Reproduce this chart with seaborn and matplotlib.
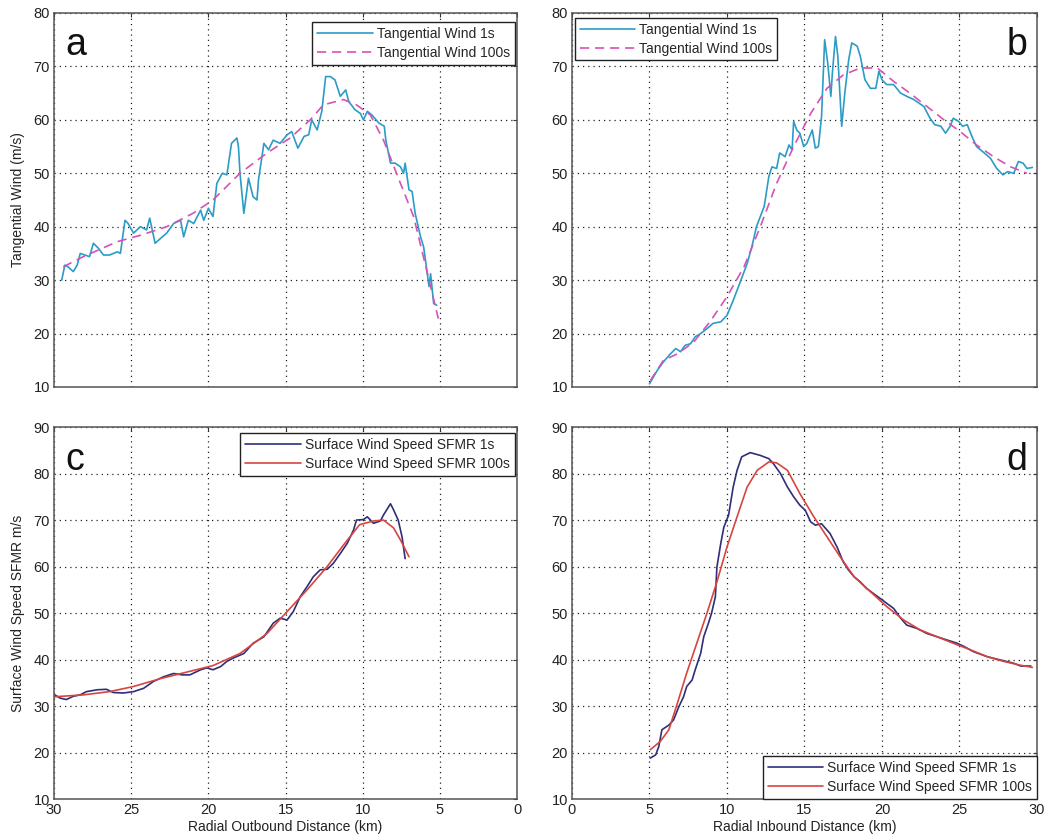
import matplotlib
matplotlib.use("Agg")
import matplotlib.pyplot as plt
import seaborn as sns

# ---- Panel a: tangential wind, outbound leg ----
a_dist_1s = [29.5, 29.3, 29.1, 28.75, 28.5, 28.3, 28.0, 27.7, 27.45, 27.1, 26.8, 26.4, 25.9, 25.7,
             25.4, 25.2, 24.85, 24.4, 24.0, 23.8, 23.45, 23.1, 22.7, 22.25, 21.8, 21.6, 21.3, 20.95,
             20.5, 20.3, 20.0, 19.7, 19.45, 19.1, 18.8, 18.5, 18.15, 18.05, 17.95, 17.7, 17.4, 17.1,
             16.85, 16.75, 16.4, 16.1, 15.8, 15.35, 14.9, 14.6, 14.2, 13.8, 13.5, 13.3, 12.95, 12.65,
             12.4, 12.1, 11.8, 11.45, 11.1, 10.9, 10.5, 10.15, 9.95, 9.7, 9.4, 8.95, 8.6, 8.5, 8.2,
             7.9, 7.55, 7.35, 7.25, 7.0, 6.8, 6.6, 6.25, 6.05, 5.7, 5.6, 5.4, 5.2]
a_wind_1s = [30.0, 32.8, 32.5, 31.6, 32.8, 35.0, 34.7, 34.4, 36.9, 35.9, 34.7, 34.7, 35.3, 35.0,
             41.2, 40.6, 38.8, 40.0, 39.4, 41.6, 36.9, 37.8, 38.8, 40.6, 41.2, 38.1, 41.2, 40.6,
             43.1, 41.2, 43.4, 41.9, 48.1, 50.0, 49.7, 55.6, 56.6, 55.0, 50.0, 42.5, 49.1, 45.6,
             45.0, 48.8, 55.6, 54.4, 56.2, 55.6, 57.2, 57.8, 54.7, 56.9, 57.2, 60.0, 58.1, 61.6,
             68.1, 68.1, 67.5, 64.4, 65.6, 63.4, 61.9, 61.2, 60.0, 61.6, 60.9, 59.4, 58.8, 56.2, 51.9,
             51.9, 51.2, 50.0, 51.9, 46.9, 46.6, 42.5, 38.1, 36.2, 28.8, 31.2, 25.6, 25.3]
a_dist_100s = [29.4, 28.1, 25.9, 24.4, 22.7, 21.0, 19.7, 17.95, 16.2, 14.7, 13.4, 12.55, 11.25,
               10.4, 9.5, 8.65, 7.55, 6.7, 5.8, 5.1]
a_wind_100s = [32.5, 34.4, 37.2, 38.4, 40.0, 42.5, 45.0, 50.0, 53.8, 56.6, 60.0, 62.8, 63.8,
               62.8, 60.9, 56.2, 48.1, 41.9, 31.2, 22.8]

# ---- Panel b: tangential wind, inbound leg ----
b_dist_1s = [5.0, 5.5, 5.9, 6.35, 6.7, 7.0, 7.3, 7.65, 7.95, 8.3, 8.7, 9.1, 9.6, 10.0, 10.4, 10.9,
             11.3, 11.6, 11.9, 12.4, 12.7, 12.9, 13.2, 13.4, 13.75, 14.0, 14.2, 14.3, 14.5, 14.7,
             14.95, 15.15, 15.5, 15.7, 15.9, 16.1, 16.3, 16.5, 16.7, 16.8, 17.0, 17.15, 17.4, 17.6,
             17.85, 18.05, 18.4, 18.6, 18.9, 19.25, 19.6, 19.8, 20.0, 20.3, 20.75, 21.2, 21.6, 22.05,
             22.4, 22.7, 23.1, 23.4, 23.8, 24.1, 24.4, 24.6, 24.95, 25.2, 25.5, 25.8, 26.1, 26.6,
             27.0, 27.4, 27.8, 28.1, 28.5, 28.8, 29.1, 29.35, 29.7]
b_wind_1s = [10.6, 13.1, 14.7, 16.2, 17.2, 16.6, 17.8, 18.1, 19.4, 20.0, 20.9, 21.9, 22.2, 23.4,
             26.2, 30.0, 33.1, 36.2, 40.0, 43.8, 49.4, 51.2, 50.9, 53.8, 53.1, 55.3, 54.4, 59.7,
             58.1, 57.5, 55.0, 55.6, 58.1, 54.7, 55.0, 60.6, 75.0, 70.6, 64.4, 68.8, 75.6, 71.9,
             58.8, 65.0, 71.2, 74.4, 73.8, 71.9, 67.5, 65.9, 65.9, 69.1, 67.5, 66.6, 66.6, 65.0,
             64.4, 63.8, 63.1, 62.5, 60.3, 59.1, 58.8, 57.5, 58.8, 60.3, 59.7, 58.8, 59.1, 56.9,
             55.0, 53.8, 52.8, 50.9, 49.7, 50.3, 50.0, 52.2, 51.9, 50.9, 51.1]
b_dist_100s = [5.05, 5.9, 6.8, 7.85, 8.9, 10.0, 11.1, 12.15, 13.2, 14.3, 15.4, 16.45, 17.5, 18.6,
               19.7, 20.75, 21.8, 22.9, 24.0, 25.05, 26.1, 27.2, 28.3, 29.35]
b_wind_100s = [11.2, 15.0, 16.2, 18.4, 22.2, 26.9, 32.5, 40.0, 48.1, 55.0, 61.2, 65.9, 68.4, 69.7,
               69.7, 67.2, 65.0, 62.5, 60.0, 57.8, 55.3, 53.1, 51.2, 50.0]

# ---- Panel c: SFMR surface wind, outbound leg ----
c_dist_1s = [29.95, 29.6, 29.2, 28.75, 28.3, 27.9, 27.2, 26.6, 26.15, 25.5, 24.85, 24.2, 23.55,
             22.9, 22.25, 21.7, 21.2, 20.5, 20.1, 19.7, 19.2, 18.8, 18.4, 17.7, 17.1, 16.4, 15.8,
             15.35, 14.9, 14.5, 14.05, 13.6, 13.2, 12.75, 12.3, 11.9, 11.45, 11.0, 10.6, 10.4, 9.95,
             9.7, 9.5, 9.3, 8.85, 8.65, 8.2, 8.0, 7.7, 7.45, 7.25]
c_wind_1s = [32.4, 31.7, 31.4, 32.1, 32.4, 33.1, 33.5, 33.6, 32.9, 32.8, 33.1, 33.8, 35.3, 36.3,
             37.0, 36.7, 36.7, 37.8, 38.2, 37.8, 38.5, 39.6, 40.3, 41.3, 43.5, 44.9, 47.8, 48.9,
             48.5, 50.3, 53.5, 55.7, 57.8, 59.3, 59.4, 60.7, 62.8, 65.0, 67.8, 70.0, 70.1, 70.7,
             70.0, 69.3, 69.8, 71.1, 73.5, 72.2, 70.0, 66.4, 61.7]
c_dist_100s = [29.95, 28.1, 26.4, 24.85, 23.1, 21.4, 19.7, 17.95, 16.2, 14.9, 13.6, 12.3, 11.25,
               10.2, 9.3, 8.65, 8.0, 7.55, 7.0]
c_wind_100s = [32.0, 32.4, 33.1, 34.2, 35.9, 37.3, 38.7, 41.3, 45.6, 50.3, 55.0, 60.0, 64.6, 69.0,
               69.8, 70.0, 68.3, 65.7, 62.1]

# ---- Panel d: SFMR surface wind, inbound leg ----
d_dist_1s = [5.05, 5.4, 5.6, 5.8, 6.25, 6.55, 6.9, 7.2, 7.4, 7.75, 7.95, 8.3, 8.5, 8.8, 9.0, 9.25,
             9.35, 9.6, 9.8, 10.1, 10.4, 10.65, 10.95, 11.5, 12.15, 12.7, 13.0, 13.45, 13.9, 14.3,
             14.7, 15.05, 15.4, 15.7, 16.1, 16.65, 17.1, 17.5, 17.85, 18.2, 18.6, 19.0, 19.45, 19.9,
             20.3, 20.75, 21.2, 21.6, 22.25, 22.9, 23.55, 24.2, 24.85, 25.3, 25.9, 26.8, 27.65,
             28.5, 28.95, 29.6]
d_wind_1s = [18.8, 19.5, 21.3, 24.9, 25.9, 27.0, 29.9, 32.0, 34.2, 35.6, 37.8, 41.3, 44.9, 47.8,
             49.9, 53.5, 59.9, 65.0, 68.5, 71.0, 77.1, 80.7, 83.6, 84.5, 83.9, 83.2, 82.1, 80.0,
             77.1, 75.0, 73.2, 72.1, 69.6, 68.9, 69.2, 67.1, 64.2, 61.0, 59.2, 57.8, 56.7, 55.3,
             54.2, 53.1, 52.1, 51.0, 48.9, 47.4, 46.7, 45.6, 44.9, 44.2, 43.5, 42.8, 41.7, 40.6,
             39.9, 39.2, 38.6, 38.6]
d_dist_100s = [5.05, 5.7, 6.25, 6.8, 7.4, 8.05, 8.7, 9.35, 10.0, 10.65, 11.3, 11.95, 12.7, 13.2,
               13.9, 14.7, 15.6, 16.45, 17.3, 18.2, 19.25, 20.3, 21.4, 22.45, 23.55, 24.6, 25.7,
               26.8, 27.85, 28.9, 29.7]
d_wind_100s = [20.6, 22.4, 24.9, 30.6, 37.1, 43.5, 49.9, 56.7, 64.2, 70.7, 77.1, 80.7, 82.5, 82.3,
               80.7, 75.7, 70.7, 66.4, 62.1, 57.8, 54.6, 51.4, 48.5, 46.4, 44.9, 43.5, 42.1, 40.6,
               39.6, 38.8, 38.3]

x_ticks = [0, 5, 10, 15, 20, 25, 30]
tw_ticks = [10, 20, 30, 40, 50, 60, 70, 80]
sfmr_ticks = [10, 20, 30, 40, 50, 60, 70, 80, 90]

label_tw_1s = "Tangential Wind 1s"
label_tw_100s = "Tangential Wind 100s"
label_sf_1s = "Surface Wind Speed SFMR 1s"
label_sf_100s = "Surface Wind Speed SFMR 100s"

CYAN = "#2b9cc6"
MAGENTA = "#d652b8"
NAVY = "#2e2f78"
RED = "#d8453f"

sns.set_style("white")
plt.rcParams["font.family"] = ["Liberation Sans", "DejaVu Sans"]
plt.rcParams["font.size"] = 10

fig = plt.figure(figsize=(10.53, 8.38), dpi=100)
ax_a = fig.add_axes([0.0513, 0.5382, 0.4397, 0.4463])
ax_b = fig.add_axes([0.5432, 0.5382, 0.4416, 0.4463])
ax_c = fig.add_axes([0.0513, 0.0465, 0.4397, 0.4439])
ax_d = fig.add_axes([0.5432, 0.0465, 0.4416, 0.4439])


def style_axes(ax, yticks, show_xlabels):
    ax.set_xlim(0, 30)
    ax.set_ylim(yticks[0], yticks[-1])
    ax.set_xticks(x_ticks)
    ax.set_yticks(yticks)
    ax.grid(True, color="#222222", linestyle=(0, (1, 3.2)), linewidth=0.9)
    ax.tick_params(direction="in", length=3, width=0.8, top=True, right=True,
                   labelsize=10.5, colors="#333333", labelcolor="#222222", pad=3)
    if not show_xlabels:
        ax.tick_params(labelbottom=False)
    for s in ax.spines.values():
        s.set_color("#555555")
        s.set_linewidth(1.1)


def draw(ax, xs1, ys1, xs2, ys2, lab1, lab2, c1, c2, dashed):
    sns.lineplot(x=xs1, y=ys1, ax=ax, sort=False, estimator=None, color=c1,
                 linewidth=1.2, label=lab1)
    ls = (0, (5.5, 3.5)) if dashed else "-"
    sns.lineplot(x=xs2, y=ys2, ax=ax, sort=False, estimator=None, color=c2,
                 linewidth=1.2, linestyle=ls, label=lab2)


draw(ax_a, a_dist_1s, a_wind_1s, a_dist_100s, a_wind_100s, label_tw_1s, label_tw_100s,
     CYAN, MAGENTA, True)
draw(ax_b, b_dist_1s, b_wind_1s, b_dist_100s, b_wind_100s, label_tw_1s, label_tw_100s,
     CYAN, MAGENTA, True)
draw(ax_c, c_dist_1s, c_wind_1s, c_dist_100s, c_wind_100s, label_sf_1s, label_sf_100s,
     NAVY, RED, False)
draw(ax_d, d_dist_1s, d_wind_1s, d_dist_100s, d_wind_100s, label_sf_1s, label_sf_100s,
     NAVY, RED, False)

style_axes(ax_a, tw_ticks, False)
style_axes(ax_b, tw_ticks, False)
style_axes(ax_c, sfmr_ticks, True)
style_axes(ax_d, sfmr_ticks, True)
ax_a.invert_xaxis()
ax_c.invert_xaxis()

ax_a.set_ylabel("Tangential Wind (m/s)", fontsize=10, color="#222222", labelpad=6)
ax_c.set_ylabel("Surface Wind Speed SFMR m/s", fontsize=10, color="#222222", labelpad=6)
ax_c.set_xlabel("Radial Outbound Distance (km)", fontsize=10, color="#222222", labelpad=2)
ax_d.set_xlabel("Radial Inbound Distance (km)", fontsize=10, color="#222222", labelpad=2)


def legend(ax, loc, anchor):
    leg = ax.legend(loc=loc, bbox_to_anchor=anchor, fontsize=10, frameon=True, fancybox=False,
                    handlelength=4.0, handletextpad=0.3, borderpad=0.35, labelspacing=0.35,
                    borderaxespad=0.0)
    fr = leg.get_frame()
    fr.set_edgecolor("#222222")
    fr.set_linewidth(1.0)
    fr.set_alpha(1.0)


legend(ax_a, "upper right", (0.995, 0.975))
legend(ax_b, "upper left", (0.006, 0.987))
legend(ax_c, "upper right", (0.995, 0.984))
legend(ax_d, "lower right", (1.0, 0.0))

panel_kw = dict(fontsize=27, color="#111111")
ax_a.text(0.025, 0.888, "a", transform=ax_a.transAxes, ha="left", va="baseline", **panel_kw)
ax_b.text(0.98, 0.888, "b", transform=ax_b.transAxes, ha="right", va="baseline", **panel_kw)
ax_c.text(0.025, 0.884, "c", transform=ax_c.transAxes, ha="left", va="baseline", **panel_kw)
ax_d.text(0.98, 0.884, "d", transform=ax_d.transAxes, ha="right", va="baseline", **panel_kw)

fig.savefig("out.png", dpi=100, facecolor="white")
